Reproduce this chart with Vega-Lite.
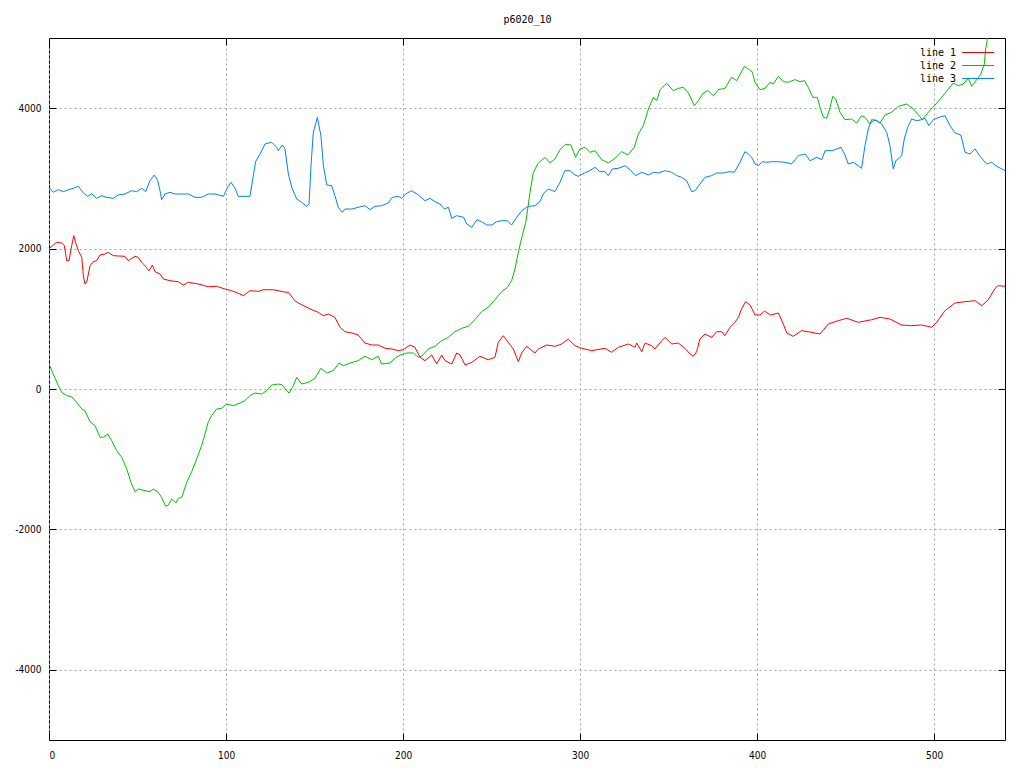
{
"$schema": "https://vega.github.io/schema/vega-lite/v6.json",
"width": 956, "height": 702,
"autosize": {"type": "none"},
"padding": {"left": 49, "top": 38, "right": 19, "bottom": 28},
"background": "white",
"config": {
  "view": {"stroke": "black", "strokeWidth": 1},
  "axis": {"domain": false, "labelFont": "Liberation Sans Narrow, DejaVu Sans Condensed, Liberation Sans", "labelFontSize": 10, "labelColor": "black", "tickColor": "black", "tickWidth": 1, "gridColor": "#a0a0a0", "gridDash": [2, 3], "gridWidth": 1, "labelExpr": "'' + datum.value"}
},
"data": {"values": [
{"s":"line 1","x":0,"v":2000},{"s":"line 1","x":2,"v":2040},{"s":"line 1","x":4.3,"v":2090},{"s":"line 1","x":7.2,"v":2080},{"s":"line 1","x":8.7,"v":2040},{"s":"line 1","x":10,"v":1828},{"s":"line 1","x":11.3,"v":1828},{"s":"line 1","x":12.8,"v":2040},{"s":"line 1","x":14,"v":2184},{"s":"line 1","x":15,"v":2090},{"s":"line 1","x":16.6,"v":1970},{"s":"line 1","x":18.5,"v":1876},{"s":"line 1","x":19.4,"v":1614},{"s":"line 1","x":20.3,"v":1496},{"s":"line 1","x":21.3,"v":1520},{"s":"line 1","x":23.2,"v":1756},{"s":"line 1","x":25,"v":1813},{"s":"line 1","x":26.9,"v":1828},{"s":"line 1","x":28.8,"v":1909},{"s":"line 1","x":31.6,"v":1923},{"s":"line 1","x":33.5,"v":1947},{"s":"line 1","x":36.3,"v":1899},{"s":"line 1","x":42.9,"v":1890},{"s":"line 1","x":44.8,"v":1828},{"s":"line 1","x":48.6,"v":1890},{"s":"line 1","x":50.4,"v":1876},{"s":"line 1","x":52.4,"v":1805},{"s":"line 1","x":54.2,"v":1756},{"s":"line 1","x":56.5,"v":1685},{"s":"line 1","x":58.4,"v":1766},{"s":"line 1","x":59.9,"v":1671},{"s":"line 1","x":62.7,"v":1638},{"s":"line 1","x":64.6,"v":1567},{"s":"line 1","x":68.3,"v":1543},{"s":"line 1","x":73,"v":1528},{"s":"line 1","x":75.9,"v":1481},{"s":"line 1","x":78.7,"v":1520},{"s":"line 1","x":84.3,"v":1496},{"s":"line 1","x":90,"v":1457},{"s":"line 1","x":94.7,"v":1463},{"s":"line 1","x":99.4,"v":1424},{"s":"line 1","x":103.2,"v":1400},{"s":"line 1","x":106.9,"v":1363},{"s":"line 1","x":109.8,"v":1329},{"s":"line 1","x":113.5,"v":1400},{"s":"line 1","x":118.2,"v":1391},{"s":"line 1","x":121,"v":1414},{"s":"line 1","x":126.7,"v":1414},{"s":"line 1","x":129.5,"v":1400},{"s":"line 1","x":133.3,"v":1380},{"s":"line 1","x":135.2,"v":1377},{"s":"line 1","x":138.9,"v":1258},{"s":"line 1","x":140.8,"v":1225},{"s":"line 1","x":144.6,"v":1178},{"s":"line 1","x":148.4,"v":1130},{"s":"line 1","x":152.1,"v":1092},{"s":"line 1","x":154.9,"v":1044},{"s":"line 1","x":157.8,"v":1068},{"s":"line 1","x":161.5,"v":1021},{"s":"line 1","x":164.4,"v":879},{"s":"line 1","x":167.2,"v":816},{"s":"line 1","x":171,"v":798},{"s":"line 1","x":174.7,"v":769},{"s":"line 1","x":178.5,"v":655},{"s":"line 1","x":182.3,"v":627},{"s":"line 1","x":186,"v":627},{"s":"line 1","x":189.8,"v":580},{"s":"line 1","x":193.6,"v":570},{"s":"line 1","x":197.3,"v":546},{"s":"line 1","x":200.1,"v":560},{"s":"line 1","x":203.9,"v":627},{"s":"line 1","x":206.7,"v":594},{"s":"line 1","x":209.6,"v":452},{"s":"line 1","x":212.4,"v":404},{"s":"line 1","x":216.2,"v":484},{"s":"line 1","x":219,"v":356},{"s":"line 1","x":221.8,"v":484},{"s":"line 1","x":223.7,"v":404},{"s":"line 1","x":227.5,"v":356},{"s":"line 1","x":230.3,"v":513},{"s":"line 1","x":232.2,"v":484},{"s":"line 1","x":235,"v":342},{"s":"line 1","x":238.8,"v":380},{"s":"line 1","x":243.4,"v":466},{"s":"line 1","x":248.1,"v":417},{"s":"line 1","x":251.9,"v":451},{"s":"line 1","x":253.8,"v":665},{"s":"line 1","x":256.6,"v":759},{"s":"line 1","x":259.4,"v":665},{"s":"line 1","x":262.3,"v":570},{"s":"line 1","x":265.1,"v":389},{"s":"line 1","x":267,"v":513},{"s":"line 1","x":269.8,"v":608},{"s":"line 1","x":271.7,"v":570},{"s":"line 1","x":274.5,"v":513},{"s":"line 1","x":276.4,"v":570},{"s":"line 1","x":281.1,"v":627},{"s":"line 1","x":285.8,"v":608},{"s":"line 1","x":289.6,"v":641},{"s":"line 1","x":293.3,"v":712},{"s":"line 1","x":297.1,"v":617},{"s":"line 1","x":300.9,"v":580},{"s":"line 1","x":306.5,"v":546},{"s":"line 1","x":314.1,"v":580},{"s":"line 1","x":317.8,"v":523},{"s":"line 1","x":321.6,"v":594},{"s":"line 1","x":327.3,"v":641},{"s":"line 1","x":331,"v":594},{"s":"line 1","x":332,"v":655},{"s":"line 1","x":334.8,"v":531},{"s":"line 1","x":336.7,"v":655},{"s":"line 1","x":340.4,"v":617},{"s":"line 1","x":342.3,"v":570},{"s":"line 1","x":346.1,"v":688},{"s":"line 1","x":348,"v":736},{"s":"line 1","x":351.7,"v":641},{"s":"line 1","x":355.5,"v":655},{"s":"line 1","x":359.2,"v":580},{"s":"line 1","x":362.1,"v":499},{"s":"line 1","x":364,"v":466},{"s":"line 1","x":365.8,"v":531},{"s":"line 1","x":367.7,"v":712},{"s":"line 1","x":370.5,"v":783},{"s":"line 1","x":374.3,"v":736},{"s":"line 1","x":377.1,"v":816},{"s":"line 1","x":380,"v":816},{"s":"line 1","x":381.8,"v":759},{"s":"line 1","x":384.7,"v":879},{"s":"line 1","x":387.5,"v":950},{"s":"line 1","x":389.4,"v":1021},{"s":"line 1","x":391.2,"v":1140},{"s":"line 1","x":393.5,"v":1244},{"s":"line 1","x":396,"v":1197},{"s":"line 1","x":398.8,"v":1054},{"s":"line 1","x":401.6,"v":1054},{"s":"line 1","x":404.2,"v":1110},{"s":"line 1","x":407.5,"v":1054},{"s":"line 1","x":412,"v":1083},{"s":"line 1","x":414.8,"v":926},{"s":"line 1","x":416.7,"v":798},{"s":"line 1","x":420.4,"v":750},{"s":"line 1","x":425.1,"v":831},{"s":"line 1","x":430.8,"v":807},{"s":"line 1","x":435.5,"v":783},{"s":"line 1","x":440.2,"v":926},{"s":"line 1","x":445.8,"v":973},{"s":"line 1","x":450.6,"v":1007},{"s":"line 1","x":457.1,"v":950},{"s":"line 1","x":464.7,"v":987},{"s":"line 1","x":469.4,"v":1021},{"s":"line 1","x":475,"v":997},{"s":"line 1","x":481.6,"v":912},{"s":"line 1","x":487.3,"v":902},{"s":"line 1","x":492.9,"v":912},{"s":"line 1","x":498.6,"v":879},{"s":"line 1","x":501.4,"v":950},{"s":"line 1","x":506.1,"v":1116},{"s":"line 1","x":511.8,"v":1225},{"s":"line 1","x":517.4,"v":1244},{"s":"line 1","x":523.1,"v":1258},{"s":"line 1","x":526.9,"v":1187},{"s":"line 1","x":530.6,"v":1272},{"s":"line 1","x":534.4,"v":1434},{"s":"line 1","x":536.2,"v":1472},{"s":"line 1","x":540,"v":1463},
{"s":"line 2","x":0,"v":356},{"s":"line 2","x":2.4,"v":214},{"s":"line 2","x":5.3,"v":47},{"s":"line 2","x":7.2,"v":-47},{"s":"line 2","x":10,"v":-95},{"s":"line 2","x":12.8,"v":-110},{"s":"line 2","x":15.6,"v":-190},{"s":"line 2","x":18.5,"v":-285},{"s":"line 2","x":20.3,"v":-309},{"s":"line 2","x":23.2,"v":-466},{"s":"line 2","x":26,"v":-523},{"s":"line 2","x":28.8,"v":-688},{"s":"line 2","x":30.7,"v":-688},{"s":"line 2","x":33.1,"v":-641},{"s":"line 2","x":35.4,"v":-736},{"s":"line 2","x":38.2,"v":-878},{"s":"line 2","x":41.1,"v":-973},{"s":"line 2","x":43.9,"v":-1140},{"s":"line 2","x":46.3,"v":-1329},{"s":"line 2","x":48.6,"v":-1462},{"s":"line 2","x":50.4,"v":-1424},{"s":"line 2","x":54.2,"v":-1448},{"s":"line 2","x":57,"v":-1462},{"s":"line 2","x":58.9,"v":-1424},{"s":"line 2","x":61.7,"v":-1472},{"s":"line 2","x":63.6,"v":-1543},{"s":"line 2","x":65.9,"v":-1671},{"s":"line 2","x":67.4,"v":-1652},{"s":"line 2","x":69.3,"v":-1567},{"s":"line 2","x":71.7,"v":-1624},{"s":"line 2","x":73,"v":-1557},{"s":"line 2","x":75,"v":-1543},{"s":"line 2","x":77.8,"v":-1329},{"s":"line 2","x":80.6,"v":-1178},{"s":"line 2","x":83.4,"v":-997},{"s":"line 2","x":86.2,"v":-808},{"s":"line 2","x":88.1,"v":-641},{"s":"line 2","x":90,"v":-466},{"s":"line 2","x":91.9,"v":-380},{"s":"line 2","x":94.7,"v":-285},{"s":"line 2","x":97.5,"v":-275},{"s":"line 2","x":100.4,"v":-214},{"s":"line 2","x":104.1,"v":-238},{"s":"line 2","x":107.9,"v":-199},{"s":"line 2","x":110.7,"v":-166},{"s":"line 2","x":113.5,"v":-95},{"s":"line 2","x":116.4,"v":-57},{"s":"line 2","x":120.1,"v":-71},{"s":"line 2","x":123,"v":-24},{"s":"line 2","x":125.8,"v":57},{"s":"line 2","x":129.5,"v":71},{"s":"line 2","x":131.8,"v":57},{"s":"line 2","x":133.5,"v":0},{"s":"line 2","x":135.6,"v":-57},{"s":"line 2","x":138,"v":47},{"s":"line 2","x":139.9,"v":166},{"s":"line 2","x":142.7,"v":71},{"s":"line 2","x":146.5,"v":95},{"s":"line 2","x":150.2,"v":152},{"s":"line 2","x":153.6,"v":295},{"s":"line 2","x":156.9,"v":228},{"s":"line 2","x":160.6,"v":261},{"s":"line 2","x":163.8,"v":370},{"s":"line 2","x":166.3,"v":332},{"s":"line 2","x":170,"v":370},{"s":"line 2","x":174.7,"v":404},{"s":"line 2","x":178.5,"v":466},{"s":"line 2","x":182.3,"v":417},{"s":"line 2","x":186,"v":466},{"s":"line 2","x":187.9,"v":356},{"s":"line 2","x":192.6,"v":370},{"s":"line 2","x":195.4,"v":437},{"s":"line 2","x":198.3,"v":484},{"s":"line 2","x":202,"v":513},{"s":"line 2","x":205.8,"v":513},{"s":"line 2","x":208.6,"v":452},{"s":"line 2","x":210.5,"v":466},{"s":"line 2","x":214.3,"v":570},{"s":"line 2","x":218,"v":608},{"s":"line 2","x":221.8,"v":688},{"s":"line 2","x":225.6,"v":736},{"s":"line 2","x":229.3,"v":816},{"s":"line 2","x":233.1,"v":864},{"s":"line 2","x":236.8,"v":893},{"s":"line 2","x":240.6,"v":987},{"s":"line 2","x":244.4,"v":1102},{"s":"line 2","x":248.1,"v":1163},{"s":"line 2","x":251.9,"v":1272},{"s":"line 2","x":255.7,"v":1386},{"s":"line 2","x":258.9,"v":1448},{"s":"line 2","x":261.3,"v":1543},{"s":"line 2","x":263.2,"v":1709},{"s":"line 2","x":265.1,"v":1947},{"s":"line 2","x":267.3,"v":2184},{"s":"line 2","x":269.3,"v":2374},{"s":"line 2","x":270.4,"v":2564},{"s":"line 2","x":271.7,"v":2800},{"s":"line 2","x":273.6,"v":3087},{"s":"line 2","x":276.4,"v":3219},{"s":"line 2","x":280.2,"v":3300},{"s":"line 2","x":283,"v":3219},{"s":"line 2","x":285.8,"v":3276},{"s":"line 2","x":288.6,"v":3409},{"s":"line 2","x":291.8,"v":3485},{"s":"line 2","x":294.8,"v":3476},{"s":"line 2","x":297.5,"v":3300},{"s":"line 2","x":299.9,"v":3419},{"s":"line 2","x":302.7,"v":3443},{"s":"line 2","x":305.5,"v":3372},{"s":"line 2","x":308.4,"v":3395},{"s":"line 2","x":312.2,"v":3267},{"s":"line 2","x":315.9,"v":3219},{"s":"line 2","x":319.7,"v":3286},{"s":"line 2","x":323.5,"v":3381},{"s":"line 2","x":326.9,"v":3333},{"s":"line 2","x":330.6,"v":3443},{"s":"line 2","x":332.9,"v":3632},{"s":"line 2","x":335.7,"v":3751},{"s":"line 2","x":338.6,"v":3989},{"s":"line 2","x":341.4,"v":4155},{"s":"line 2","x":343.3,"v":4107},{"s":"line 2","x":345.2,"v":4264},{"s":"line 2","x":348.9,"v":4355},{"s":"line 2","x":352.7,"v":4250},{"s":"line 2","x":355.5,"v":4283},{"s":"line 2","x":358.3,"v":4297},{"s":"line 2","x":361.2,"v":4216},{"s":"line 2","x":364.5,"v":4036},{"s":"line 2","x":366.8,"v":4107},{"s":"line 2","x":369.6,"v":4216},{"s":"line 2","x":372.1,"v":4250},{"s":"line 2","x":375.3,"v":4178},{"s":"line 2","x":378.1,"v":4264},{"s":"line 2","x":381.8,"v":4283},{"s":"line 2","x":385.6,"v":4440},{"s":"line 2","x":388.4,"v":4392},{"s":"line 2","x":392.8,"v":4597},{"s":"line 2","x":395,"v":4558},{"s":"line 2","x":397.3,"v":4511},{"s":"line 2","x":398.8,"v":4369},{"s":"line 2","x":401.6,"v":4264},{"s":"line 2","x":404.4,"v":4283},{"s":"line 2","x":407.3,"v":4369},{"s":"line 2","x":409.1,"v":4345},{"s":"line 2","x":412,"v":4454},{"s":"line 2","x":414.8,"v":4378},{"s":"line 2","x":417.6,"v":4369},{"s":"line 2","x":421.4,"v":4407},{"s":"line 2","x":424.2,"v":4378},{"s":"line 2","x":426.7,"v":4392},{"s":"line 2","x":428.9,"v":4297},{"s":"line 2","x":431.4,"v":4155},{"s":"line 2","x":434,"v":4155},{"s":"line 2","x":435.5,"v":4013},{"s":"line 2","x":437.4,"v":3870},{"s":"line 2","x":439.3,"v":3856},{"s":"line 2","x":441.2,"v":4013},{"s":"line 2","x":442.7,"v":4169},{"s":"line 2","x":444.4,"v":4131},{"s":"line 2","x":446.8,"v":3942},{"s":"line 2","x":449.6,"v":3837},{"s":"line 2","x":453.4,"v":3846},{"s":"line 2","x":456.2,"v":3789},{"s":"line 2","x":459,"v":3894},{"s":"line 2","x":460.9,"v":3870},{"s":"line 2","x":463.7,"v":3775},{"s":"line 2","x":466.6,"v":3837},{"s":"line 2","x":469.4,"v":3789},{"s":"line 2","x":472.2,"v":3903},{"s":"line 2","x":476,"v":3942},{"s":"line 2","x":479.8,"v":4027},{"s":"line 2","x":484.5,"v":4060},{"s":"line 2","x":488.3,"v":3989},{"s":"line 2","x":491.1,"v":3903},{"s":"line 2","x":493.3,"v":3837},{"s":"line 2","x":496.7,"v":3942},{"s":"line 2","x":500.5,"v":4046},{"s":"line 2","x":504.2,"v":4155},{"s":"line 2","x":508,"v":4273},{"s":"line 2","x":510.8,"v":4359},{"s":"line 2","x":513.6,"v":4321},{"s":"line 2","x":516.5,"v":4345},{"s":"line 2","x":519.3,"v":4426},{"s":"line 2","x":521.2,"v":4312},{"s":"line 2","x":524,"v":4407},{"s":"line 2","x":526.4,"v":4487},{"s":"line 2","x":528.3,"v":4630},{"s":"line 2","x":529.1,"v":4843},{"s":"line 2","x":530.2,"v":5010},{"s":"line 2","x":531.5,"v":5300},{"s":"line 2","x":533,"v":5600},{"s":"line 2","x":536,"v":6000},{"s":"line 2","x":540,"v":6300},
{"s":"line 3","x":0,"v":2873},{"s":"line 3","x":2.4,"v":2802},{"s":"line 3","x":5.3,"v":2839},{"s":"line 3","x":8.1,"v":2811},{"s":"line 3","x":10.9,"v":2839},{"s":"line 3","x":13.7,"v":2859},{"s":"line 3","x":16.6,"v":2887},{"s":"line 3","x":19.4,"v":2792},{"s":"line 3","x":21.9,"v":2745},{"s":"line 3","x":24.1,"v":2782},{"s":"line 3","x":26.9,"v":2716},{"s":"line 3","x":29.8,"v":2754},{"s":"line 3","x":32.6,"v":2730},{"s":"line 3","x":36.3,"v":2716},{"s":"line 3","x":39.1,"v":2764},{"s":"line 3","x":42.9,"v":2778},{"s":"line 3","x":46.7,"v":2825},{"s":"line 3","x":49.5,"v":2811},{"s":"line 3","x":52.4,"v":2859},{"s":"line 3","x":54.6,"v":2811},{"s":"line 3","x":57,"v":2967},{"s":"line 3","x":59.5,"v":3048},{"s":"line 3","x":61.4,"v":2967},{"s":"line 3","x":62.7,"v":2825},{"s":"line 3","x":63.6,"v":2697},{"s":"line 3","x":65.5,"v":2778},{"s":"line 3","x":68.3,"v":2802},{"s":"line 3","x":71.2,"v":2778},{"s":"line 3","x":75,"v":2778},{"s":"line 3","x":78.7,"v":2778},{"s":"line 3","x":82.5,"v":2730},{"s":"line 3","x":86.2,"v":2730},{"s":"line 3","x":90,"v":2778},{"s":"line 3","x":93.8,"v":2778},{"s":"line 3","x":98.5,"v":2745},{"s":"line 3","x":100.9,"v":2873},{"s":"line 3","x":102.8,"v":2944},{"s":"line 3","x":105.1,"v":2859},{"s":"line 3","x":106.9,"v":2745},{"s":"line 3","x":110.7,"v":2745},{"s":"line 3","x":113.5,"v":2745},{"s":"line 3","x":115.4,"v":3039},{"s":"line 3","x":116.7,"v":3238},{"s":"line 3","x":119.2,"v":3348},{"s":"line 3","x":122,"v":3490},{"s":"line 3","x":125.8,"v":3514},{"s":"line 3","x":128.6,"v":3443},{"s":"line 3","x":129.5,"v":3395},{"s":"line 3","x":131.8,"v":3476},{"s":"line 3","x":133.3,"v":3420},{"s":"line 3","x":135.2,"v":3063},{"s":"line 3","x":137.1,"v":2873},{"s":"line 3","x":139.9,"v":2707},{"s":"line 3","x":142.7,"v":2659},{"s":"line 3","x":145.6,"v":2602},{"s":"line 3","x":146.9,"v":2635},{"s":"line 3","x":148,"v":3181},{"s":"line 3","x":149.3,"v":3656},{"s":"line 3","x":151.6,"v":3870},{"s":"line 3","x":153.6,"v":3608},{"s":"line 3","x":155,"v":3181},{"s":"line 3","x":156.9,"v":2906},{"s":"line 3","x":159.7,"v":2896},{"s":"line 3","x":161.5,"v":2754},{"s":"line 3","x":163.4,"v":2588},{"s":"line 3","x":165.6,"v":2517},{"s":"line 3","x":167.2,"v":2564},{"s":"line 3","x":171,"v":2564},{"s":"line 3","x":174.7,"v":2588},{"s":"line 3","x":178.5,"v":2611},{"s":"line 3","x":181.3,"v":2554},{"s":"line 3","x":184.1,"v":2602},{"s":"line 3","x":187.9,"v":2611},{"s":"line 3","x":191.6,"v":2650},{"s":"line 3","x":193.9,"v":2730},{"s":"line 3","x":197.3,"v":2745},{"s":"line 3","x":199.2,"v":2716},{"s":"line 3","x":201.4,"v":2778},{"s":"line 3","x":204.8,"v":2825},{"s":"line 3","x":208.6,"v":2764},{"s":"line 3","x":212.4,"v":2683},{"s":"line 3","x":215.2,"v":2716},{"s":"line 3","x":218,"v":2669},{"s":"line 3","x":220.9,"v":2635},{"s":"line 3","x":223.3,"v":2564},{"s":"line 3","x":225.6,"v":2588},{"s":"line 3","x":227.5,"v":2431},{"s":"line 3","x":230.3,"v":2469},{"s":"line 3","x":234.1,"v":2446},{"s":"line 3","x":236,"v":2350},{"s":"line 3","x":238.8,"v":2303},{"s":"line 3","x":241.7,"v":2412},{"s":"line 3","x":244.4,"v":2383},{"s":"line 3","x":247.2,"v":2336},{"s":"line 3","x":250.1,"v":2336},{"s":"line 3","x":252.9,"v":2383},{"s":"line 3","x":255.7,"v":2397},{"s":"line 3","x":258.9,"v":2397},{"s":"line 3","x":261.3,"v":2336},{"s":"line 3","x":264.2,"v":2446},{"s":"line 3","x":267,"v":2540},{"s":"line 3","x":269.8,"v":2588},{"s":"line 3","x":271.7,"v":2605},{"s":"line 3","x":274.5,"v":2611},{"s":"line 3","x":277.3,"v":2669},{"s":"line 3","x":279.2,"v":2778},{"s":"line 3","x":282,"v":2849},{"s":"line 3","x":285.8,"v":2811},{"s":"line 3","x":288.6,"v":2944},{"s":"line 3","x":291.4,"v":3110},{"s":"line 3","x":294.3,"v":3110},{"s":"line 3","x":297.1,"v":3048},{"s":"line 3","x":299,"v":3029},{"s":"line 3","x":302.4,"v":3077},{"s":"line 3","x":305.5,"v":3110},{"s":"line 3","x":308.4,"v":3158},{"s":"line 3","x":311.2,"v":3096},{"s":"line 3","x":314.1,"v":3096},{"s":"line 3","x":315.9,"v":3039},{"s":"line 3","x":318.2,"v":3134},{"s":"line 3","x":321.6,"v":3143},{"s":"line 3","x":325.4,"v":3181},{"s":"line 3","x":328.2,"v":3124},{"s":"line 3","x":331.4,"v":3039},{"s":"line 3","x":334.8,"v":3087},{"s":"line 3","x":338.6,"v":3048},{"s":"line 3","x":341.4,"v":3087},{"s":"line 3","x":344.2,"v":3077},{"s":"line 3","x":348,"v":3110},{"s":"line 3","x":351.7,"v":3087},{"s":"line 3","x":354.6,"v":3039},{"s":"line 3","x":357.4,"v":3015},{"s":"line 3","x":360.2,"v":2967},{"s":"line 3","x":363,"v":2811},{"s":"line 3","x":364.9,"v":2825},{"s":"line 3","x":367.7,"v":2920},{"s":"line 3","x":370.5,"v":3015},{"s":"line 3","x":374.3,"v":3039},{"s":"line 3","x":377.1,"v":3077},{"s":"line 3","x":380.9,"v":3077},{"s":"line 3","x":384.1,"v":3096},{"s":"line 3","x":387.1,"v":3087},{"s":"line 3","x":390.3,"v":3229},{"s":"line 3","x":393.1,"v":3381},{"s":"line 3","x":395,"v":3348},{"s":"line 3","x":396.9,"v":3300},{"s":"line 3","x":398.8,"v":3205},{"s":"line 3","x":400.7,"v":3181},{"s":"line 3","x":402.9,"v":3238},{"s":"line 3","x":405.4,"v":3229},{"s":"line 3","x":408.2,"v":3238},{"s":"line 3","x":412,"v":3238},{"s":"line 3","x":415.7,"v":3229},{"s":"line 3","x":419.5,"v":3205},{"s":"line 3","x":423.3,"v":3324},{"s":"line 3","x":427.1,"v":3348},{"s":"line 3","x":429.9,"v":3252},{"s":"line 3","x":433.7,"v":3300},{"s":"line 3","x":436.5,"v":3267},{"s":"line 3","x":438.4,"v":3395},{"s":"line 3","x":442.2,"v":3395},{"s":"line 3","x":445,"v":3419},{"s":"line 3","x":447.4,"v":3443},{"s":"line 3","x":449.6,"v":3333},{"s":"line 3","x":451.5,"v":3205},{"s":"line 3","x":454.3,"v":3229},{"s":"line 3","x":457.1,"v":3181},{"s":"line 3","x":459,"v":3143},{"s":"line 3","x":460.9,"v":3466},{"s":"line 3","x":462.8,"v":3704},{"s":"line 3","x":464.7,"v":3837},{"s":"line 3","x":467.5,"v":3822},{"s":"line 3","x":470.3,"v":3775},{"s":"line 3","x":473.2,"v":3656},{"s":"line 3","x":475,"v":3466},{"s":"line 3","x":476.9,"v":3134},{"s":"line 3","x":478.3,"v":3252},{"s":"line 3","x":479.8,"v":3276},{"s":"line 3","x":481.6,"v":3324},{"s":"line 3","x":483.1,"v":3561},{"s":"line 3","x":485,"v":3728},{"s":"line 3","x":487.3,"v":3846},{"s":"line 3","x":490.1,"v":3822},{"s":"line 3","x":492.9,"v":3837},{"s":"line 3","x":494.8,"v":3856},{"s":"line 3","x":497,"v":3751},{"s":"line 3","x":499.5,"v":3837},{"s":"line 3","x":502.7,"v":3870},{"s":"line 3","x":506.1,"v":3894},{"s":"line 3","x":508.9,"v":3751},{"s":"line 3","x":511.8,"v":3647},{"s":"line 3","x":515.1,"v":3618},{"s":"line 3","x":517.4,"v":3372},{"s":"line 3","x":520.2,"v":3348},{"s":"line 3","x":523.1,"v":3419},{"s":"line 3","x":525.9,"v":3314},{"s":"line 3","x":529.6,"v":3205},{"s":"line 3","x":532.5,"v":3229},{"s":"line 3","x":535.3,"v":3172},{"s":"line 3","x":539,"v":3124},{"s":"line 3","x":540,"v":3110}
]},
"layer": [
  {
    "mark": {"type": "line", "strokeWidth": 1, "clip": true},
    "encoding": {
      "x": {"field": "x", "type": "quantitative", "scale": {"domain": [0, 540], "nice": false, "zero": false},
            "axis": {"orient": "bottom", "title": null, "values": [0, 100, 200, 300, 400, 500], "grid": true, "tickSize": -7, "labelPadding": 17}},
      "y": {"field": "v", "type": "quantitative", "scale": {"domain": [-5000, 5000], "nice": false, "zero": false},
            "axis": {"orient": "left", "title": null, "values": [-4000, -2000, 0, 2000, 4000], "grid": true, "tickSize": -7, "labelPadding": 15}},
      "color": {"field": "s", "type": "nominal",
                "scale": {"domain": ["line 1", "line 2", "line 3"], "range": ["#ff0000", "#00c000", "#0080ff"]},
                "legend": {"title": null, "orient": "none", "legendX": 922.7, "legendY": 8, "symbolType": "M-2.667,0H2.667", "symbolSize": 144, "symbolStrokeWidth": 1, "labelAlign": "right", "labelOffset": -28.7, "rowPadding": 1, "padding": 0, "labelFont": "DejaVu Sans Mono", "labelFontSize": 10, "labelColor": "black"}}
    }
  },
  {
    "mark": {"type": "point", "opacity": 0},
    "encoding": {
      "x": {"field": "x", "type": "quantitative", "scale": {"domain": [0, 540], "nice": false, "zero": false},
            "axis": {"orient": "top", "title": "p6020_10", "titleFont": "DejaVu Sans Mono", "titleFontSize": 10, "titleFontWeight": "normal", "titleColor": "black", "titlePadding": 13, "values": [0, 100, 200, 300, 400, 500], "grid": false, "labels": false, "tickSize": -7}},
      "y": {"field": "v", "type": "quantitative", "scale": {"domain": [-5000, 5000], "nice": false, "zero": false},
            "axis": {"orient": "right", "title": null, "values": [-4000, -2000, 0, 2000, 4000], "grid": false, "labels": false, "tickSize": -7}}
    }
  }
],
"resolve": {"axis": {"x": "independent", "y": "independent"}}
}
